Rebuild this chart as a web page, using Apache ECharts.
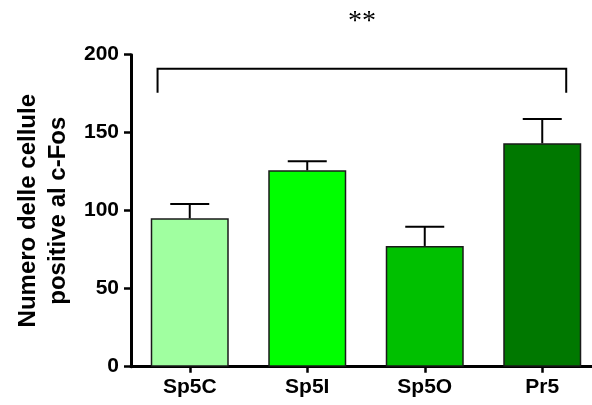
<!DOCTYPE html>
<html>
<head>
<meta charset="utf-8">
<script src="https://cdn.jsdelivr.net/npm/echarts@6/dist/echarts.min.js"></script>
<style>html,body{margin:0;padding:0;background:#fff;}#c{width:592px;height:405px;}</style>
</head>
<body>
<div id="c"></div>
<script>
const categories = ['Sp5C', 'Sp5I', 'Sp5O', 'Pr5'];
const means = [95.1, 125.9, 77.4, 143.2];
const errorTops = [104.3, 131.7, 89.7, 158.8];
const barColors = ['#a0ffa0', '#00ff00', '#00c000', '#007800'];
const yTicks = [0, 50, 100, 150, 200];
const bracketTop = 191;
const bracketBottom = 175.6;
const bracketFrom = 0;
const bracketTo = 3;
const bracketLabel = '**';

const chart = echarts.init(document.getElementById('c'), null, {renderer: 'canvas'});
const FONT = 'Liberation Sans, Arial, sans-serif';

chart.setOption({
  animation: false,
  backgroundColor: '#ffffff',
  grid: {left: 131, right: -9, top: 54.7, bottom: 38.3, containLabel: false, outerBoundsMode: 'none'},
  xAxis: {
    type: 'category',
    data: categories,
    axisLine: {lineStyle: {color: '#000', width: 3}},
    axisTick: {show: true, alignWithLabel: true, length: 6, lineStyle: {color: '#000', width: 2.5}},
    axisLabel: {color: '#000', fontFamily: FONT, fontWeight: 'bold', fontSize: 21, margin: 10}
  },
  yAxis: {
    type: 'value',
    min: yTicks[0],
    max: yTicks[yTicks.length - 1],
    interval: 50,
    name: 'Numero delle cellule\npositive al c-Fos',
    nameLocation: 'middle',
    nameGap: 58,
    nameTextStyle: {color: '#000', fontFamily: FONT, fontWeight: 'bold', fontSize: 24, lineHeight: 30},
    axisLine: {show: true, lineStyle: {color: '#000', width: 3}},
    axisTick: {show: true, length: 7, lineStyle: {color: '#000', width: 2.5}},
    axisLabel: {color: '#000', fontFamily: FONT, fontWeight: 'bold', fontSize: 21, margin: 12},
    splitLine: {show: false}
  },
  series: [
    {
      type: 'bar',
      data: means.map((v, i) => ({value: v, itemStyle: {color: barColors[i]}})),
      barWidth: 78,
      itemStyle: {borderColor: '#1a1a1a', borderWidth: 1.5},
      z: 2
    },
    {
      type: 'custom',
      data: means.map((m, i) => [i, m, errorTops[i]]),
      renderItem: function (params, api) {
        const x = api.value(0);
        const base = api.coord([x, api.value(1)]);
        const top = api.coord([x, api.value(2)]);
        const half = 19.5;
        return {
          type: 'group',
          children: [
            {type: 'line', shape: {x1: base[0], y1: base[1], x2: top[0], y2: top[1]}, style: {stroke: '#000', lineWidth: 2}},
            {type: 'line', shape: {x1: top[0] - half, y1: top[1], x2: top[0] + half, y2: top[1]}, style: {stroke: '#000', lineWidth: 2}}
          ]
        };
      },
      z: 3
    },
    {
      type: 'custom',
      data: [[bracketFrom, bracketTo, bracketTop, bracketBottom]],
      renderItem: function (params, api) {
        const band = api.size([1, 0])[0];
        const a = api.coord([api.value(0), api.value(2)]);
        const b = api.coord([api.value(1), api.value(2)]);
        const aBot = api.coord([api.value(0), api.value(3)]);
        const x1 = a[0] - band * 0.274;
        const x2 = b[0] + band * 0.204;
        const yT = a[1];
        const yB = aBot[1];
        return {
          type: 'group',
          children: [
            {type: 'polyline', shape: {points: [[x1, yB], [x1, yT], [x2, yT], [x2, yB]]}, style: {stroke: '#000', lineWidth: 2, fill: null}},
            {type: 'text', x: (x1 + x2) / 2, y: 22, style: {text: bracketLabel, font: '28px "Liberation Serif", "Times New Roman", serif', fill: '#000', align: 'center', verticalAlign: 'middle'}}
          ]
        };
      },
      z: 3
    }
  ]
});
</script>
</body>
</html>
